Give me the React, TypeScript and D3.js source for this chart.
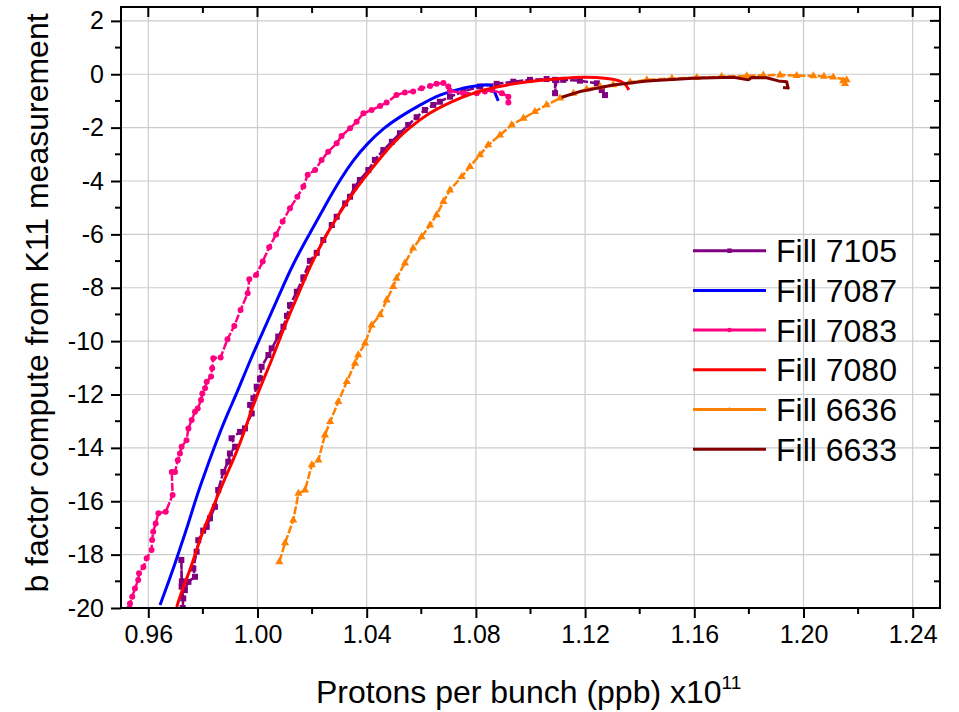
import React, { useEffect, useRef } from "react";
import * as d3 from "d3";

// axis ticks
const xTicks = [0.96, 1.0, 1.04, 1.08, 1.12, 1.16, 1.2, 1.24];
const xMinorTicks = [0.98, 1.02, 1.06, 1.1, 1.14, 1.18, 1.22];
const yTicks = [2, 0, -2, -4, -6, -8, -10, -12, -14, -16, -18, -20];
const yMinorTicks = [1, -1, -3, -5, -7, -9, -11, -13, -15, -17, -19];

// series: [ppb x1e11, b factor]
const fill7105: [number, number][] = [
  [0.9726, -20.0], [0.9728, -19.64], [0.9722, -19.2], [0.9721, -18.2], [0.9723, -19.0],
  [0.9734, -19.33], [0.9747, -19.02], [0.9771, -18.83], [0.9765, -18.52], [0.9777, -17.89],
  [0.9783, -17.46], [0.9801, -17.1], [0.9814, -16.96], [0.9826, -16.64], [0.9844, -16.21],
  [0.9856, -15.58], [0.9875, -14.9], [0.9893, -14.52], [0.9899, -14.21], [0.9918, -13.96],
  [0.9905, -13.64], [0.9936, -13.4], [0.9954, -13.27], [0.9979, -12.71], [0.9973, -12.39],
  [0.9985, -12.14], [0.9997, -11.71], [1.0009, -11.4], [1.0015, -10.96], [1.004, -10.52],
  [1.0052, -10.27], [1.0076, -9.83], [1.0095, -9.46], [1.0108, -9.05], [1.0119, -8.65],
  [1.0144, -8.15], [1.0168, -7.61], [1.0192, -6.99], [1.0217, -6.69], [1.0241, -6.21],
  [1.0272, -5.65], [1.029, -5.34], [1.0321, -4.84], [1.0339, -4.59], [1.0357, -4.21],
  [1.0375, -3.96], [1.0406, -3.59], [1.043, -3.21], [1.0461, -2.84], [1.0492, -2.53],
  [1.0522, -2.21], [1.0552, -1.9], [1.0583, -1.61], [1.0613, -1.34], [1.0644, -1.15],
  [1.0668, -1.03], [1.0705, -0.84], [1.0754, -0.65], [1.0815, -0.46], [1.0876, -0.36],
  [1.0937, -0.28], [1.0998, -0.21], [1.1059, -0.18], [1.109, -0.21], [1.109, -0.71],
  [1.1095, -0.22], [1.112, -0.21], [1.1181, -0.24], [1.1243, -0.34], [1.1261, -0.59],
  [1.1273, -0.78],
];

const fill7087: [number, number][] = [
  [0.9643, -19.89], [0.9692, -18.52], [0.9716, -17.77], [0.9747, -16.83], [0.9771, -16.02],
  [0.9789, -15.46], [0.982, -14.58], [0.9856, -13.58], [0.9893, -12.65], [0.9924, -11.96],
  [0.9973, -10.71], [1.0034, -9.33], [1.0082, -8.21], [1.0131, -7.08], [1.0192, -5.96],
  [1.0259, -4.71], [1.0302, -3.96], [1.0351, -3.21], [1.04, -2.62], [1.0461, -2.02],
  [1.0522, -1.59], [1.0595, -1.15], [1.0668, -0.75], [1.0745, -0.53], [1.0815, -0.42],
  [1.0855, -0.35], [1.0866, -0.6], [1.0882, -1.0],
];

const fill7083: [number, number][] = [
  [0.9531, -20.0], [0.9533, -19.83], [0.9541, -19.58], [0.9551, -19.27], [0.9563, -18.95],
  [0.9566, -18.7], [0.9582, -18.46], [0.9594, -18.14], [0.9612, -17.83], [0.9614, -17.45],
  [0.9618, -17.14], [0.9627, -16.83], [0.9637, -16.45], [0.9664, -16.39], [0.9689, -15.77],
  [0.9686, -14.9], [0.9698, -14.9], [0.9708, -14.46], [0.9716, -14.21], [0.9722, -13.96],
  [0.974, -13.71], [0.9747, -13.27], [0.9759, -12.96], [0.9771, -12.65], [0.9781, -12.52],
  [0.9793, -12.21], [0.9798, -11.96], [0.9808, -11.77], [0.9814, -11.52], [0.983, -11.33],
  [0.9834, -11.02], [0.9838, -10.64], [0.9865, -10.61], [0.989, -9.93], [0.9915, -9.43],
  [0.9938, -8.83], [0.9964, -8.21], [0.997, -7.68], [0.9995, -7.52], [1.0019, -7.02],
  [1.0043, -6.48], [1.0068, -6.0], [1.0092, -5.52], [1.0119, -5.02], [1.0146, -4.59],
  [1.0168, -4.21], [1.0184, -3.77], [1.0211, -3.59], [1.0235, -3.21], [1.0259, -2.9],
  [1.029, -2.59], [1.0308, -2.31], [1.0339, -2.02], [1.0363, -1.78], [1.0388, -1.46],
  [1.0418, -1.34], [1.0449, -1.19], [1.0473, -1.06], [1.0509, -0.78], [1.054, -0.68],
  [1.057, -0.65], [1.0601, -0.52], [1.0632, -0.44], [1.0656, -0.36], [1.0681, -0.33],
  [1.0699, -0.46], [1.0705, -0.62], [1.0754, -0.71], [1.0803, -0.71], [1.0833, -0.65],
  [1.0858, -0.59], [1.0895, -0.71], [1.0919, -0.84], [1.0919, -1.06],
];

const fill7080: [number, number][] = [
  [0.9704, -19.96], [0.9728, -19.2], [0.9753, -18.58], [0.9777, -17.83], [0.9801, -17.08],
  [0.9838, -16.21], [0.9875, -15.27], [0.9911, -14.46], [0.9936, -13.83], [0.9966, -12.96],
  [0.9991, -12.21], [1.0021, -11.46], [1.0052, -10.71], [1.0089, -9.71], [1.0119, -8.96],
  [1.0156, -8.08], [1.0192, -7.21], [1.0241, -6.21], [1.029, -5.38], [1.0339, -4.6],
  [1.0388, -3.92], [1.0437, -3.3], [1.0497, -2.55], [1.0559, -1.98], [1.0632, -1.42],
  [1.0705, -1.05], [1.0778, -0.74], [1.0876, -0.46], [1.0998, -0.25], [1.112, -0.15],
  [1.1199, -0.1], [1.1285, -0.15], [1.1346, -0.28], [1.136, -0.59],
];

const fill6636: [number, number][] = [
  [1.008, -18.27], [1.0101, -17.56], [1.0131, -16.71], [1.015, -15.71], [1.0174, -15.58],
  [1.0199, -14.64], [1.0223, -14.46], [1.0247, -13.52], [1.0266, -13.02], [1.0296, -12.27],
  [1.0327, -11.52], [1.0357, -10.83], [1.0369, -10.52], [1.0394, -10.08], [1.0418, -9.4],
  [1.0449, -9.02], [1.0473, -8.46], [1.0497, -7.96], [1.0509, -7.65], [1.054, -7.08],
  [1.057, -6.52], [1.0601, -6.09], [1.0632, -5.65], [1.0656, -5.27], [1.0681, -4.77],
  [1.0705, -4.34], [1.0748, -3.84], [1.0778, -3.46], [1.0815, -3.02], [1.0845, -2.65],
  [1.0888, -2.28], [1.0931, -1.9], [1.0974, -1.65], [1.1016, -1.4], [1.1059, -1.15],
  [1.1108, -0.9], [1.1157, -0.72], [1.1206, -0.56], [1.1255, -0.47], [1.1303, -0.4],
  [1.1365, -0.3], [1.1426, -0.21], [1.1518, -0.16], [1.1609, -0.13], [1.17, -0.09],
  [1.1792, -0.06], [1.1853, -0.04], [1.1914, -0.03], [1.1975, -0.05], [1.2036, -0.06],
  [1.2075, -0.08], [1.2109, -0.11], [1.2158, -0.21], [1.2152, -0.35], [1.2145, -0.25],
];

const fill6633: [number, number][] = [
  [1.1114, -0.86], [1.1181, -0.65], [1.1303, -0.4], [1.1426, -0.25], [1.1596, -0.15],
  [1.1743, -0.11], [1.1798, -0.21], [1.181, -0.12], [1.1865, -0.13], [1.1908, -0.25],
  [1.1938, -0.28], [1.1944, -0.52], [1.1925, -0.5],
];

const seriesNames = ["Fill 7105", "Fill 7087", "Fill 7083", "Fill 7080", "Fill 6636", "Fill 6633"];
const seriesData = [fill7105, fill7087, fill7083, fill7080, fill6636, fill6633];

const styles = [
  { color: "#800080", width: 2.5, marker: "square", size: 6, dash: "8,2", smooth: false },
  { color: "#0000ff", width: 3, marker: "none", size: 0, dash: "", smooth: true },
  { color: "#ff0080", width: 2.5, marker: "circle", size: 6, dash: "8,2", smooth: false },
  { color: "#ff0000", width: 3, marker: "none", size: 0, dash: "", smooth: true },
  { color: "#ff8000", width: 2.5, marker: "triangle", size: 8, dash: "8,2", smooth: false },
  { color: "#800000", width: 3, marker: "none", size: 0, dash: "", smooth: false },
];

const App = () => {
  const svgRef = useRef<SVGSVGElement | null>(null);
  const svgWidth = 959;
  const svgHeight = 712;
  const margin = { top: 7, right: 19, bottom: 104, left: 121 };

  useEffect(() => {
    const innerWidth = svgWidth - margin.left - margin.right;
    const innerHeight = svgHeight - margin.top - margin.bottom;
    const font = "'Liberation Sans', Arial, sans-serif";

    const svg = d3.select(svgRef.current).attr("width", svgWidth).attr("height", svgHeight);
    svg.selectAll("*").remove();

    svg.append("rect").attr("width", svgWidth).attr("height", svgHeight).attr("fill", "white");

    svg.append("defs").append("clipPath").attr("id", "plotClip")
      .append("rect").attr("width", innerWidth).attr("height", innerHeight);

    const xScale = d3.scaleLinear().domain([0.95, 1.25]).range([0, innerWidth]);
    const yScale = d3.scaleLinear().domain([-20, 2.52]).range([innerHeight, 0]);

    const g = svg.append("g").attr("transform", `translate(${margin.left},${margin.top})`);

    // grid
    const grid = g.append("g").attr("stroke", "#cccccc").attr("stroke-width", 1.2);
    xTicks.forEach((t) => {
      grid.append("line").attr("x1", xScale(t)).attr("x2", xScale(t))
        .attr("y1", 0).attr("y2", innerHeight);
    });
    yTicks.forEach((t) => {
      grid.append("line").attr("x1", 0).attr("x2", innerWidth)
        .attr("y1", yScale(t)).attr("y2", yScale(t));
    });

    // bottom / left axes (outward ticks)
    const xAxis = d3.axisBottom(xScale).tickValues(xTicks).tickSize(10).tickPadding(7)
      .tickFormat(d3.format(".2f"));
    const xAxisG = g.append("g").attr("transform", `translate(0,${innerHeight})`).call(xAxis);
    xAxisG.selectAll(".domain").remove();
    xAxisG.selectAll(".tick line").attr("stroke-width", 2);
    xAxisG.selectAll("text").attr("font-size", 25).attr("font-family", font).attr("fill", "#000");

    const yAxis = d3.axisLeft(yScale).tickValues(yTicks).tickSize(10).tickPadding(7)
      .tickFormat((d) => String(d));
    const yAxisG = g.append("g").call(yAxis);
    yAxisG.selectAll(".domain").remove();
    yAxisG.selectAll(".tick line").attr("stroke-width", 2);
    yAxisG.selectAll("text").attr("font-size", 25).attr("font-family", font).attr("fill", "#000");

    const ticks = g.append("g").attr("stroke", "#000").attr("stroke-width", 2);
    xMinorTicks.forEach((t) => {
      ticks.append("line").attr("x1", xScale(t)).attr("x2", xScale(t))
        .attr("y1", innerHeight).attr("y2", innerHeight + 6);
      ticks.append("line").attr("x1", xScale(t)).attr("x2", xScale(t))
        .attr("y1", 0).attr("y2", 6);
    });
    yMinorTicks.forEach((t) => {
      ticks.append("line").attr("x1", 0).attr("x2", -6)
        .attr("y1", yScale(t)).attr("y2", yScale(t));
      ticks.append("line").attr("x1", innerWidth).attr("x2", innerWidth - 6)
        .attr("y1", yScale(t)).attr("y2", yScale(t));
    });
    // top / right inward major
    xTicks.forEach((t) => {
      ticks.append("line").attr("x1", xScale(t)).attr("x2", xScale(t))
        .attr("y1", 0).attr("y2", 10);
    });
    yTicks.forEach((t) => {
      ticks.append("line").attr("x1", innerWidth).attr("x2", innerWidth - 10)
        .attr("y1", yScale(t)).attr("y2", yScale(t));
    });

    // curves
    const straight = d3.line<[number, number]>()
      .x((d) => xScale(d[0]))
      .y((d) => yScale(d[1]));
    const smooth = d3.line<[number, number]>()
      .x((d) => xScale(d[0]))
      .y((d) => yScale(d[1]))
      .curve(d3.curveBasis);

    const plot = g.append("g").attr("clip-path", "url(#plotClip)");

    const drawMarker = (sel: any, kind: string, x: number, y: number, color: string, s: number) => {
      if (kind === "square") {
        sel.append("rect").attr("x", x - s / 2).attr("y", y - s / 2)
          .attr("width", s).attr("height", s).attr("fill", color);
      } else if (kind === "circle") {
        sel.append("circle").attr("cx", x).attr("cy", y).attr("r", s / 2).attr("fill", color);
      } else if (kind === "triangle") {
        sel.append("path")
          .attr("d", d3.symbol().type(d3.symbolTriangle).size(s * s * 0.45)())
          .attr("transform", `translate(${x},${y})`)
          .attr("fill", color);
      }
    };

    seriesData.forEach((data, i) => {
      const st = styles[i];
      plot.append("path").datum(data).attr("d", st.smooth ? smooth : straight).attr("fill", "none")
        .attr("stroke", st.color).attr("stroke-width", st.width)
        .attr("stroke-dasharray", st.dash || null)
        .attr("stroke-linejoin", "round");
      if (st.marker !== "none") {
        const mg = plot.append("g");
        data.forEach((d) => drawMarker(mg, st.marker, xScale(d[0]), yScale(d[1]), st.color, st.size));
      }
    });

    // frame
    g.append("rect").attr("width", innerWidth).attr("height", innerHeight)
      .attr("fill", "none").attr("stroke", "#000").attr("stroke-width", 2);

    // legend
    const legend = g.append("g").attr("transform", `translate(${693 - margin.left},${250.7 - margin.top})`);
    seriesNames.forEach((name, i) => {
      const st = styles[i];
      const row = legend.append("g").attr("transform", `translate(0,${i * 39.7})`);
      row.append("line").attr("x1", 0).attr("x2", 73).attr("y1", 0).attr("y2", 0)
        .attr("stroke", st.color).attr("stroke-width", 3);
      if (st.marker !== "none") drawMarker(row, st.marker, 36.5, 0, st.color, 4.5);
      row.append("text").attr("x", 83).attr("y", 11.5).attr("font-size", 32)
        .attr("font-family", font).attr("fill", "#000").text(name);
    });

    // axis titles
    const xt = svg.append("text").attr("x", 316).attr("y", 703).attr("font-size", 32)
      .attr("font-family", font).attr("fill", "#000");
    xt.append("tspan").text("Protons per bunch (ppb) x10");
    xt.append("tspan").attr("dy", -14).attr("font-size", 19).text("11");

    svg.append("text").attr("transform", `translate(48,303) rotate(-90)`)
      .attr("text-anchor", "middle").attr("font-size", 32).attr("font-family", font)
      .attr("fill", "#000").text("b factor compute from K11 measurement");
  }, []);

  return (
    <svg ref={svgRef} style={{ position: "absolute", left: 0, top: 0, display: "block" }}></svg>
  );
};

export default App;
